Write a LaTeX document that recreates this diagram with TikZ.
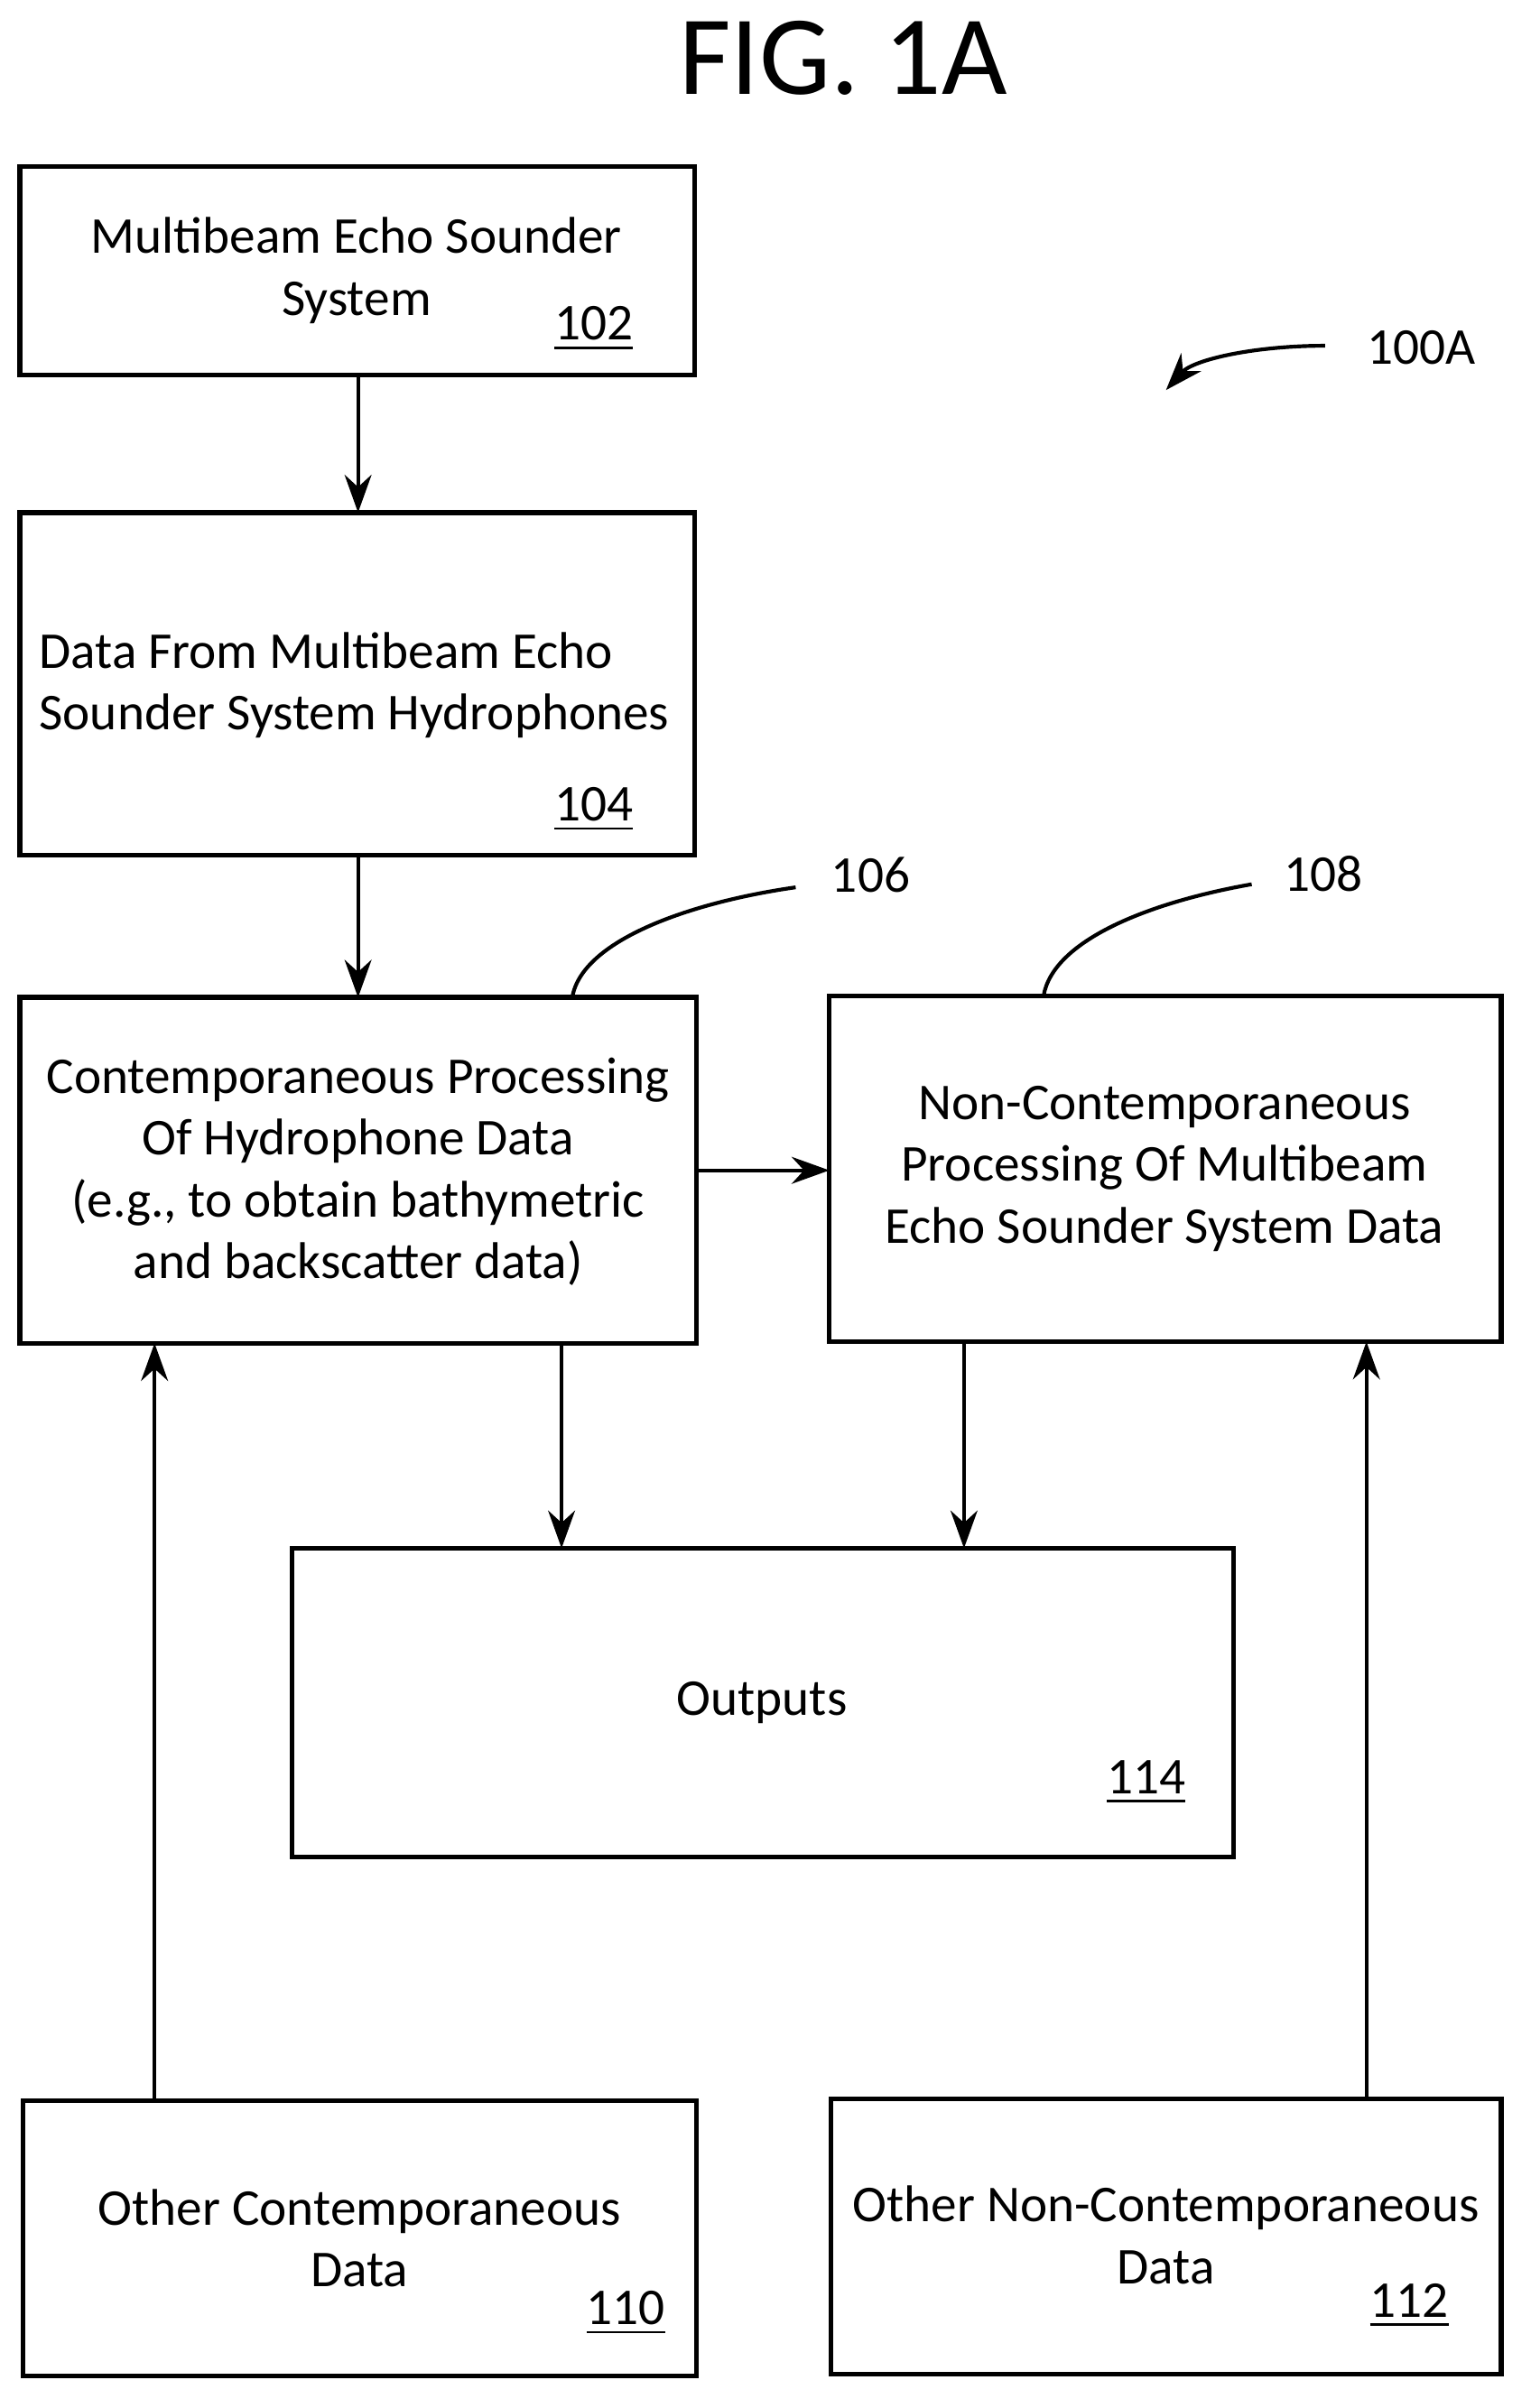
\documentclass[tikz,border=0pt]{standalone}
\usepackage{fontspec}
\setmainfont{Carlito}
\usetikzlibrary{arrows.meta}
\begin{document}
\begin{tikzpicture}[x=0.01cm,y=-0.01cm,
  box/.style={draw,line width=0.9pt},
  txt/.style={font=\fontsize{9.6}{11.5}\selectfont,align=center,inner sep=0},
  num/.style={font=\fontsize{9.6}{11.5}\selectfont,inner sep=0},
  arr/.style={-{Stealth[length=7pt,width=5pt]},line width=0.7pt},
  lead/.style={line width=0.7pt}]
\useasboundingbox (0,0) rectangle (1000,1574);
\node[font=\fontsize{21}{24}\selectfont] (title) at (551,38) {FIG. 1A};
\draw[box] (13,109) rectangle (454,245);
\draw[box] (13,335) rectangle (454,559);
\draw[box] (13,652) rectangle (455,878);
\draw[box] (542,651) rectangle (981,877);
\draw[box] (191,1012) rectangle (806,1214);
\draw[box] (15,1373) rectangle (455,1553);
\draw[box] (543,1372) rectangle (981,1552);
\coordinate (b102) at (234,245); \coordinate (t104) at (234,335);
\coordinate (b104) at (234,559); \coordinate (t106) at (234,652);
\node[txt] (l102) at (233,177) {Multibeam Echo Sounder\\System};
\node[num] (n102) at (388,215) {\underline{102}};
\node[txt,align=left,anchor=west] (l104) at (25,448) {Data From Multibeam Echo\\Sounder System Hydrophones};
\node[num] (n104) at (388,529) {\underline{104}};
\node[txt] (l106) at (234,766) {Contemporaneous Processing\\Of Hydrophone Data\\(e.g., to obtain bathymetric\\and backscatter data)};
\node[txt] (l108) at (761,764) {Non-Contemporaneous\\Processing Of Multibeam\\Echo Sounder System Data};
\node[txt] (l114) at (498,1113) {Outputs};
\node[num] (n114) at (749,1165) {\underline{114}};
\node[txt] (l110) at (235,1463) {Other Contemporaneous\\Data};
\node[num] (n110) at (409,1512) {\underline{110}};
\node[txt] (l112) at (762,1461) {Other Non-Contemporaneous\\Data};
\node[num] (n112) at (921,1507) {\underline{112}};
\node[num] (n106) at (569,572) {106};
\node[num] (n108) at (865,571) {108};
\node[num] (n100) at (929,227) {100A};
\draw[arr] (b102) -- (t104);
\draw[arr] (b104) -- (t106);
\coordinate (r106) at (455,765); \coordinate (l108p) at (542,765);
\draw[arr] (r106) -- (l108p);
\coordinate (a1) at (367,878); \coordinate (a2) at (367,1012);
\draw[arr] (a1) -- (a2);
\coordinate (c1) at (630,877); \coordinate (c2) at (630,1012);
\draw[arr] (c1) -- (c2);
\coordinate (d1) at (101,1373); \coordinate (d2) at (101,878);
\draw[arr] (d1) -- (d2);
\coordinate (e1) at (893,1372); \coordinate (e2) at (893,877);
\draw[arr] (e1) -- (e2);
\coordinate (p106) at (374,652); \coordinate (q106) at (520,580);
\draw[lead] (p106) .. controls (380,615) and (450,590) .. (q106);
\coordinate (p108) at (682,651); \coordinate (q108) at (818,578);
\draw[lead] (p108) .. controls (688,615) and (750,590) .. (q108);
\coordinate (p100) at (866,226); \coordinate (q100) at (762,255);
\draw[arr] (p100) .. controls (820,226) and (780,235) .. (q100);
\end{tikzpicture}
\end{document}
